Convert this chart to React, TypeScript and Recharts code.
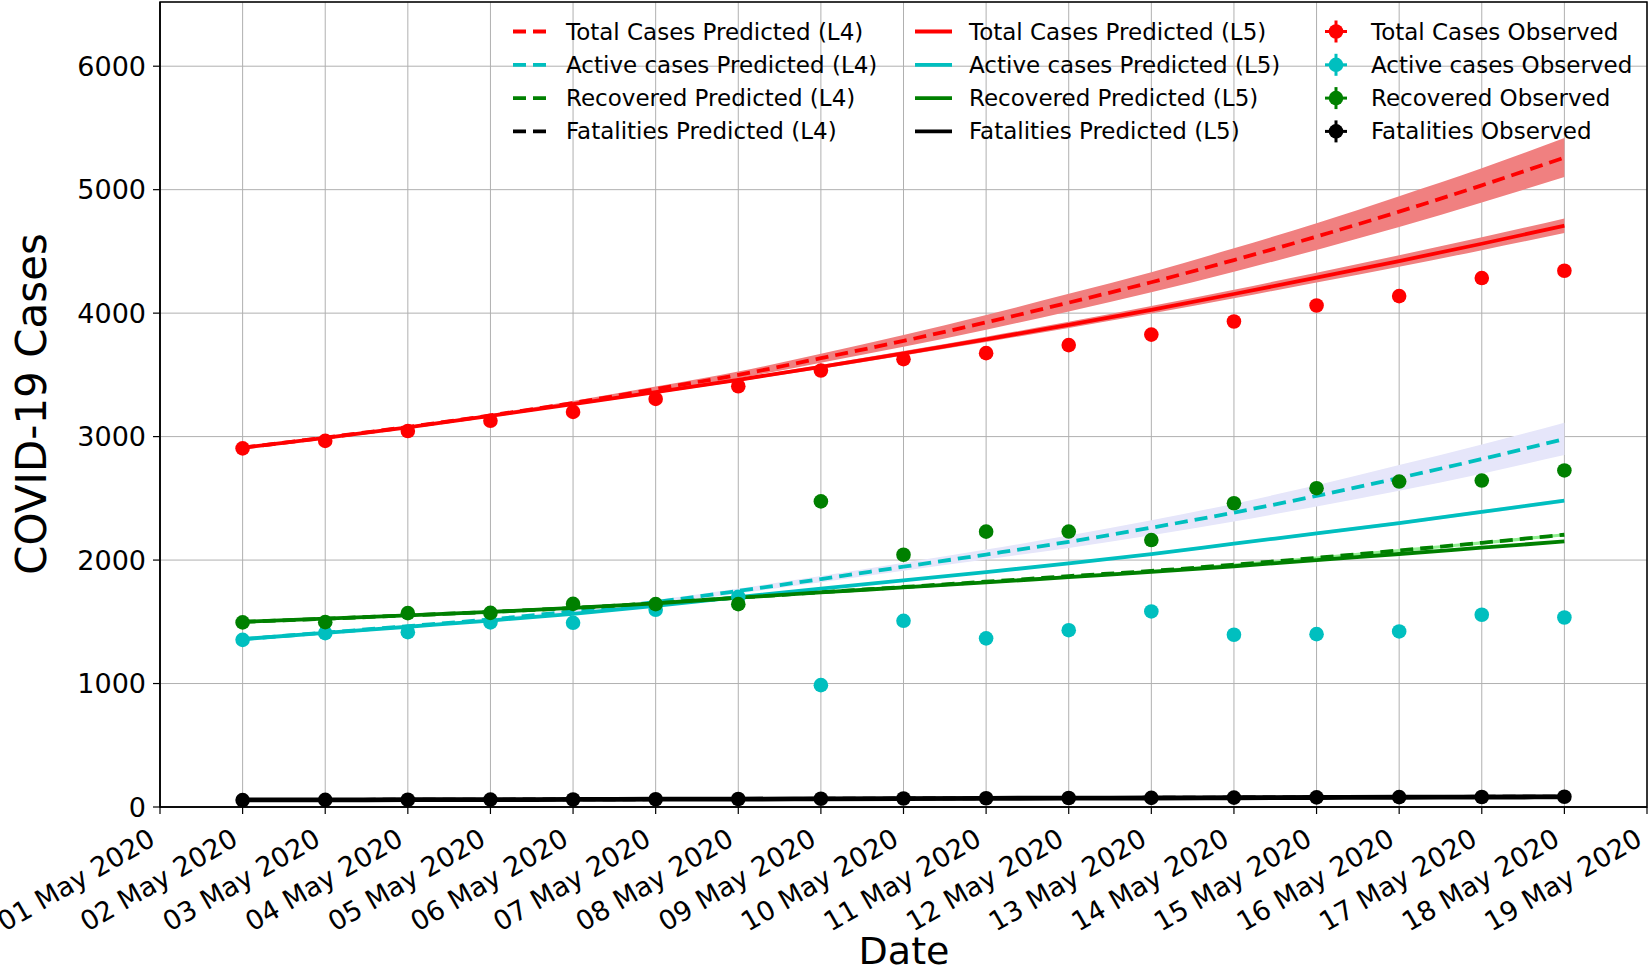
import React from "react";
import {
  Area,
  CartesianGrid,
  ComposedChart,
  Line,
  ReferenceArea,
  Scatter,
  XAxis,
  YAxis,
} from "recharts";

// Day index 0 = 01 May 2020
const dateLabels = [
  "01 May 2020", "02 May 2020", "03 May 2020", "04 May 2020", "05 May 2020",
  "06 May 2020", "07 May 2020", "08 May 2020", "09 May 2020", "10 May 2020",
  "11 May 2020", "12 May 2020", "13 May 2020", "14 May 2020", "15 May 2020",
  "16 May 2020", "17 May 2020", "18 May 2020", "19 May 2020",
];
const days = [1, 2, 3, 4, 5, 6, 7, 8, 9, 10, 11, 12, 13, 14, 15, 16, 17];
const yTicks = [0, 1000, 2000, 3000, 4000, 5000, 6000];

// observed counts
const totalObs = [2905, 2965, 3045, 3128, 3200, 3305, 3408, 3535, 3627, 3676, 3741, 3826, 3932, 4062, 4138, 4284, 4343];
const activeObs = [1354, 1408, 1416, 1495, 1492, 1597, 1702, 987, 1508, 1366, 1432, 1584, 1395, 1400, 1422, 1557, 1535];
const recoveredObs = [1495, 1497, 1570, 1572, 1645, 1643, 1643, 2475, 2043, 2230, 2231, 2162, 2460, 2582, 2636, 2644, 2726];
const fatalObs = [56, 58, 59, 60, 61, 63, 65, 67, 69, 71, 73, 74, 76, 78, 80, 81, 83];

// model L4 (dashed) with band
const totalL4 = [2910, 2992, 3078, 3172, 3272, 3385, 3500, 3635, 3775, 3925, 4085, 4250, 4430, 4620, 4822, 5035, 5260];
const totalL4Lo = [2910, 2987, 3070, 3160, 3256, 3365, 3473, 3599, 3727, 3865, 4014, 4169, 4335, 4512, 4697, 4897, 5102];
const totalL4Hi = [2910, 2997, 3086, 3184, 3288, 3405, 3527, 3671, 3823, 3985, 4156, 4331, 4525, 4728, 4947, 5173, 5418];
const activeL4 = [1360, 1412, 1465, 1520, 1585, 1660, 1750, 1846, 1946, 2045, 2148, 2262, 2385, 2520, 2665, 2818, 2981];
const activeL4Lo = [1360, 1409, 1459, 1511, 1573, 1644, 1730, 1821, 1914, 2005, 2098, 2202, 2313, 2434, 2561, 2700, 2850];
const activeL4Hi = [1360, 1415, 1471, 1529, 1597, 1676, 1770, 1871, 1978, 2085, 2198, 2322, 2457, 2606, 2769, 2936, 3112];
const recoveredL4 = [1500, 1525, 1552, 1580, 1612, 1650, 1695, 1740, 1782, 1825, 1870, 1912, 1963, 2018, 2078, 2140, 2205];
const recoveredL4Lo = [1500, 1524, 1551, 1578, 1610, 1647, 1691, 1735, 1776, 1818, 1862, 1903, 1953, 2007, 2066, 2127, 2192];
const recoveredL4Hi = [1500, 1526, 1553, 1582, 1614, 1653, 1699, 1745, 1788, 1832, 1878, 1921, 1973, 2029, 2090, 2153, 2218];
const fatalL4 = [57, 58, 59, 60, 62, 63, 65, 67, 69, 71, 73, 75, 77, 79, 81, 83, 85];
const fatalL4Lo = [45, 46, 47, 48, 49, 50, 52, 53, 55, 57, 58, 60, 61, 63, 65, 66, 68];
const fatalL4Hi = [69, 70, 71, 72, 75, 76, 78, 81, 83, 85, 88, 90, 93, 95, 97, 100, 102];

// model L5 (solid) with band
const totalL5 = [2910, 2990, 3075, 3168, 3263, 3360, 3460, 3565, 3675, 3788, 3905, 4027, 4155, 4288, 4422, 4562, 4708];
const totalL5Lo = [2910, 2987, 3070, 3161, 3254, 3349, 3447, 3550, 3657, 3767, 3880, 3997, 4120, 4248, 4375, 4510, 4650];
const totalL5Hi = [2910, 2993, 3080, 3175, 3272, 3371, 3473, 3580, 3693, 3809, 3930, 4057, 4190, 4328, 4469, 4614, 4766];
const activeL5 = [1360, 1410, 1460, 1510, 1565, 1630, 1700, 1768, 1835, 1902, 1973, 2049, 2133, 2216, 2300, 2390, 2481];
const activeL5Lo = [1360, 1409, 1458, 1507, 1561, 1625, 1694, 1761, 1827, 1893, 1963, 2038, 2121, 2203, 2286, 2375, 2465];
const activeL5Hi = [1360, 1411, 1462, 1513, 1569, 1635, 1706, 1775, 1843, 1911, 1983, 2060, 2145, 2229, 2314, 2405, 2497];
const recoveredL5 = [1500, 1525, 1552, 1580, 1612, 1650, 1695, 1738, 1778, 1819, 1862, 1904, 1950, 2000, 2049, 2100, 2151];
const fatalL5 = [57, 58, 59, 60, 61, 63, 64, 66, 68, 70, 72, 73, 75, 77, 79, 80, 82];

const RED = "#ff0000";
const CYAN = "#00bfbf";
const GREEN = "#008000";
const BLACK = "#000000";
const FONT = "DejaVu Sans, sans-serif";
const LW = 3.8;
const DASH = "13 7";

const rows = days.map((day, i) => ({
  day,
  totalObs: totalObs[i],
  activeObs: activeObs[i],
  recoveredObs: recoveredObs[i],
  fatalObs: fatalObs[i],
  totalL4: totalL4[i],
  totalL4Band: [totalL4Lo[i], totalL4Hi[i]],
  activeL4: activeL4[i],
  activeL4Band: [activeL4Lo[i], activeL4Hi[i]],
  recoveredL4: recoveredL4[i],
  recoveredL4Band: [recoveredL4Lo[i], recoveredL4Hi[i]],
  fatalL4: fatalL4[i],
  fatalL4Band: [fatalL4Lo[i], fatalL4Hi[i]],
  totalL5: totalL5[i],
  totalL5Band: [totalL5Lo[i], totalL5Hi[i]],
  activeL5: activeL5[i],
  activeL5Band: [activeL5Lo[i], activeL5Hi[i]],
  recoveredL5: recoveredL5[i],
  fatalL5: fatalL5[i],
}));

const legendSeries = [
  { name: "Total Cases", color: RED },
  { name: "Active cases", color: CYAN },
  { name: "Recovered", color: GREEN },
  { name: "Fatalities", color: BLACK },
];

function DateTick(props: any) {
  const { x, y, payload } = props;
  const px = x - 3;
  const py = y + 30;
  return (
    <text
      x={px}
      y={py}
      transform={`rotate(-30 ${px} ${py})`}
      textAnchor="end"
      fontFamily={FONT}
      fontSize={27}
      fill="#000"
    >
      {dateLabels[payload.value]}
    </text>
  );
}

const dot = (color: string) => (p: any) =>
  <circle cx={p.cx} cy={p.cy} r={7.3} fill={color} />;

function LegendOverlay() {
  const rowY = (i: number) => 31.5 + i * 33.3;
  return (
    <svg
      width={1650}
      height={160}
      style={{ position: "absolute", left: 0, top: 0, pointerEvents: "none" }}
      fontFamily={FONT}
      fontSize={23}
    >
      {legendSeries.map((s, i) => {
        const cy = rowY(i);
        return (
          <g key={s.name}>
            <line x1={513} x2={550} y1={cy} y2={cy} stroke={s.color} strokeWidth={LW} strokeDasharray={DASH} />
            <text x={566} y={cy + 8}>{`${s.name} Predicted (L4)`}</text>
            <line x1={915} x2={952} y1={cy} y2={cy} stroke={s.color} strokeWidth={LW} />
            <text x={969} y={cy + 8}>{`${s.name} Predicted (L5)`}</text>
            <line x1={1325} x2={1347} y1={cy} y2={cy} stroke={s.color} strokeWidth={3} />
            <line x1={1336} x2={1336} y1={cy - 11} y2={cy + 11} stroke={s.color} strokeWidth={3} />
            <circle cx={1336} cy={cy} r={7.3} fill={s.color} />
            <text x={1371} y={cy + 8}>{`${s.name} Observed`}</text>
          </g>
        );
      })}
    </svg>
  );
}

export default function App() {
  return (
    <div style={{ position: "absolute", left: 0, top: 0, width: 1650, height: 973, background: "#fff" }}>
      <ComposedChart
        width={1650}
        height={973}
        data={rows}
        margin={{ top: 2, right: 3, bottom: 0, left: 0 }}
      >
        <CartesianGrid stroke="#b0b0b0" strokeWidth={1} />
        <XAxis
          dataKey="day"
          type="number"
          domain={[0, 18]}
          ticks={dateLabels.map((_, i) => i)}
          interval={0}
          height={166}
          tickSize={7}
          tickMargin={0}
          axisLine={{ stroke: "#000", strokeWidth: 1.5 }}
          tickLine={{ stroke: "#000", strokeWidth: 1.2 }}
          tick={<DateTick />}
          label={{
            content: () => (
              <text x={904} y={964} textAnchor="middle" fontFamily={FONT} fontSize={38} fill="#000">
                Date
              </text>
            ),
          }}
        />
        <YAxis
          type="number"
          domain={[0, 6520]}
          ticks={yTicks}
          allowDataOverflow
          width={160}
          tickSize={7}
          tickMargin={7}
          axisLine={{ stroke: "#000", strokeWidth: 1.5 }}
          tickLine={{ stroke: "#000", strokeWidth: 1.2 }}
          tick={{ fontFamily: FONT, fontSize: 27, fill: "#000" }}
          label={{
            content: () => (
              <text
                x={46}
                y={404}
                transform="rotate(-90 46 404)"
                textAnchor="middle"
                fontFamily={FONT}
                fontSize={42}
                fill="#000"
              >
                COVID-19 Cases
              </text>
            ),
          }}
        />

        {/* L4 model: bands then dashed lines */}
        <Area type="monotone" dataKey="totalL4Band" stroke="none" fill="#f08080" fillOpacity={1} isAnimationActive={false} />
        <Line type="monotone" dataKey="totalL4" stroke={RED} strokeWidth={LW} strokeDasharray={DASH} dot={false} activeDot={false} isAnimationActive={false} />
        <Area type="monotone" dataKey="activeL4Band" stroke="none" fill="#e6e6fa" fillOpacity={1} isAnimationActive={false} />
        <Line type="monotone" dataKey="activeL4" stroke={CYAN} strokeWidth={LW} strokeDasharray={DASH} dot={false} activeDot={false} isAnimationActive={false} />
        <Area type="monotone" dataKey="recoveredL4Band" stroke="none" fill="#90ee90" fillOpacity={1} isAnimationActive={false} />
        <Line type="monotone" dataKey="recoveredL4" stroke={GREEN} strokeWidth={LW} strokeDasharray={DASH} dot={false} activeDot={false} isAnimationActive={false} />
        <Area type="monotone" dataKey="fatalL4Band" stroke="none" fill="#a9a9a9" fillOpacity={1} isAnimationActive={false} />
        <Line type="monotone" dataKey="fatalL4" stroke={BLACK} strokeWidth={LW} strokeDasharray={DASH} dot={false} activeDot={false} isAnimationActive={false} />

        {/* L5 model: bands then solid lines */}
        <Area type="monotone" dataKey="totalL5Band" stroke="none" fill="#f08080" fillOpacity={1} isAnimationActive={false} />
        <Line type="monotone" dataKey="totalL5" stroke={RED} strokeWidth={LW} dot={false} activeDot={false} isAnimationActive={false} />
        <Area type="monotone" dataKey="activeL5Band" stroke="none" fill="#e6e6fa" fillOpacity={1} isAnimationActive={false} />
        <Line type="monotone" dataKey="activeL5" stroke={CYAN} strokeWidth={LW} dot={false} activeDot={false} isAnimationActive={false} />
        <Line type="monotone" dataKey="recoveredL5" stroke={GREEN} strokeWidth={LW} dot={false} activeDot={false} isAnimationActive={false} />
        <Line type="monotone" dataKey="fatalL5" stroke={BLACK} strokeWidth={LW + 1} dot={false} activeDot={false} isAnimationActive={false} />

        {/* observed */}
        <Scatter dataKey="totalObs" shape={dot(RED)} isAnimationActive={false} />
        <Scatter dataKey="activeObs" shape={dot(CYAN)} isAnimationActive={false} />
        <Scatter dataKey="recoveredObs" shape={dot(GREEN)} isAnimationActive={false} />
        <Scatter dataKey="fatalObs" shape={dot(BLACK)} isAnimationActive={false} />

        <ReferenceArea x1={0} x2={18} y1={0} y2={6520} fill="none" fillOpacity={0} stroke="#000" strokeWidth={1.5} ifOverflow="visible" />
      </ComposedChart>
      <LegendOverlay />
    </div>
  );
}
